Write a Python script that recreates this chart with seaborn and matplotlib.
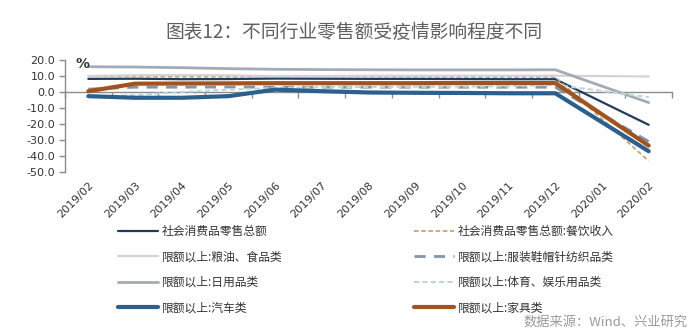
import numpy as np
import pandas as pd
import matplotlib
matplotlib.use("Agg")
import matplotlib.pyplot as plt
import seaborn as sns

months = ['2019/02', '2019/03', '2019/04', '2019/05', '2019/06', '2019/07', '2019/08',
          '2019/09', '2019/10', '2019/11', '2019/12', '2020/01', '2020/02']
nan = np.nan
total_retail = [8.2, 8.3, 8.0, 8.1, 8.4, 8.3, 8.2, 8.2, 8.1, 8.0, 8.0, nan, -20.5]
catering = [9.7, 9.6, 9.5, 9.5, 9.4, 9.5, 9.5, 9.4, 9.4, 9.4, 9.4, nan, -43.1]
grain_food = [10.0, 10.5, 10.6, 10.4, 10.0, 10.0, 10.2, 10.2, 10.2, 10.2, 10.2, nan, 9.7]
clothing = [1.8, 3.0, 3.0, 3.1, 3.0, 3.0, 3.0, 3.0, 3.0, 3.0, 3.0, nan, -30.9]
daily_use = [15.8, 15.6, 15.2, 14.6, 14.2, 14.0, 13.9, 13.8, 13.8, 13.8, 13.9, nan, -6.6]
sports = [-3.0, -2.0, 0.0, 1.5, 2.5, 3.0, 3.2, 3.3, 3.4, 3.6, 4.5, nan, -3.2]
autos = [-2.6, -3.6, -3.6, -2.6, 1.5, 0.5, -0.3, -0.5, -0.6, -0.8, -0.8, nan, -37.0]
furniture = [0.5, 5.2, 5.3, 5.4, 5.5, 5.5, 5.5, 5.5, 5.6, 5.6, 5.6, nan, -33.5]

labels = ['社会消费品零售总额', '社会消费品零售总额:餐饮收入',
          '限额以上:粮油、食品类', '限额以上:服装鞋帽针纺织品类',
          '限额以上:日用品类', '限额以上:体育、娱乐用品类',
          '限额以上:汽车类', '限额以上:家具类']
series = [total_retail, catering, grain_food, clothing, daily_use, sports, autos, furniture]

styles = [
    dict(color='#1f3c5e', lw=1.6, ls='-'),
    dict(color='#c9a36a', lw=1.3, ls=(0, (2.5, 1.5))),
    dict(color='#d4d4d4', lw=1.6, ls='-'),
    dict(color='#8294a6', lw=2.0, ls=(0, (4, 3))),
    dict(color='#a3abb4', lw=2.0, ls='-'),
    dict(color='#bcd6de', lw=1.5, ls=(0, (2.5, 1.5))),
    dict(color='#2b5f8e', lw=3.0, ls='-'),
    dict(color='#a2521c', lw=3.0, ls='-'),
]

sns.set_style('white')
plt.rcParams['font.family'] = ['Noto Sans CJK SC', 'DejaVu Sans']

fig = plt.figure(figsize=(7.0, 3.36), dpi=100)
ax = fig.add_axes([65/700, 1-172/336, (672-65)/700, 112/336])

draw_order = [2, 4, 0, 1, 3, 5, 6, 7]
handles = {}
for i in draw_order:
    df = pd.DataFrame({'x': np.arange(len(months)), 'y': series[i]}).dropna()
    st = styles[i]
    sns.lineplot(data=df, x='x', y='y', ax=ax, color=st['color'], linewidth=st['lw'],
                 linestyle=st['ls'], label=labels[i], legend=False, zorder=3 + i * 0.1)
    handles[i] = ax.lines[-1]

ax.set_xlim(-0.5, len(months) - 0.5)
ax.set_ylim(-50, 20)
ax.set_xlabel('')
ax.set_ylabel('')

# zero line as bottom axis with boundary ticks
for s in ['top', 'right']:
    ax.spines[s].set_visible(False)
ax.spines['bottom'].set_position(('data', 0))
ax.spines['bottom'].set_color('#8c8c8c')
ax.spines['bottom'].set_linewidth(1.0)
ax.spines['left'].set_color('#8c8c8c')
ax.spines['left'].set_linewidth(1.0)
ax.set_xticks(np.arange(-0.5, len(months) + 0.5, 1.0))
ax.tick_params(axis='x', which='major', length=4, width=1, color='#8c8c8c',
               direction='out', labelbottom=False, bottom=True)
ax.set_yticks(np.arange(-50, 21, 10))
ax.set_yticklabels([f'{v:.1f}' for v in np.arange(-50, 21, 10)], fontsize=8,
                   color='#333333', family='DejaVu Sans')
ax.tick_params(axis='y', length=4, width=1, color='#8c8c8c', direction='out', left=True, pad=3)

sec = ax.secondary_xaxis(0)
sec.set_xticks(np.arange(len(months)))
sec.set_xticklabels(months, rotation=45, ha='right', rotation_mode='anchor',
                    fontsize=8, color='#333333', family='DejaVu Sans')
sec.tick_params(length=0, pad=6)
sec.spines['bottom'].set_visible(False)

fig.text(75/700, 1-64/336, '%', fontsize=10, fontweight='bold', color='#333333',
         ha='left', va='center', family='DejaVu Sans')

fig.text(354/700, 1-33/336, '图表12：不同行业零售额受疫情影响程度不同', fontsize=13.5,
         color='#5f5f5f', ha='center', va='center')

fig.text(688/700, 1-322/336, '数据来源：Wind、兴业研究', fontsize=9.5,
         color='#9a9a9a', ha='right', va='center')

leg_kw = dict(frameon=False, fontsize=8.5, handlelength=3.4, handletextpad=0.3,
              labelspacing=1.05, borderpad=0, borderaxespad=0, loc='upper left',
              labelcolor='#333333')
left_idx = [0, 2, 4, 6]
right_idx = [1, 3, 5, 7]
fig.legend([handles[i] for i in left_idx], [labels[i] for i in left_idx],
           bbox_to_anchor=(118/700, 1-225/336), **leg_kw)
fig.legend([handles[i] for i in right_idx], [labels[i] for i in right_idx],
           bbox_to_anchor=(414/700, 1-225/336), **leg_kw)

fig.savefig('out.png', dpi=100)
